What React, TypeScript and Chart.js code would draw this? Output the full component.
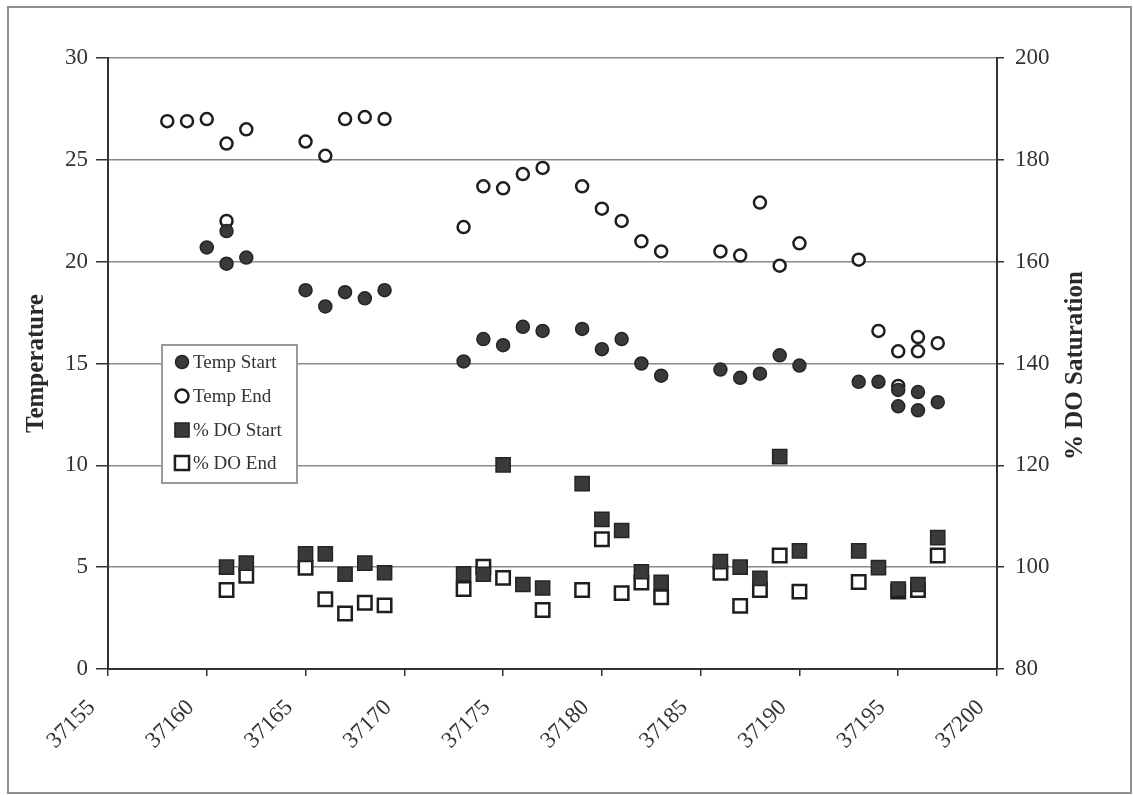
import React, { useEffect, useRef } from 'react';
import { Chart, registerables } from 'chart.js';

Chart.register(...registerables);

// ---- Data ----
const xTickValues = [37155, 37160, 37165, 37170, 37175, 37180, 37185, 37190, 37195, 37200];
const tempTicks = [0, 5, 10, 15, 20, 25, 30];
const doTicks = [80, 100, 120, 140, 160, 180, 200];

const tempStartDays = [37160, 37161, 37161, 37162, 37165, 37166, 37167, 37168, 37169, 37173, 37174, 37175, 37176, 37177, 37179, 37180, 37181, 37182, 37183, 37186, 37187, 37188, 37189, 37190, 37193, 37194, 37195, 37195, 37196, 37196, 37197];
const tempStartValues = [20.7, 21.5, 19.9, 20.2, 18.6, 17.8, 18.5, 18.2, 18.6, 15.1, 16.2, 15.9, 16.8, 16.6, 16.7, 15.7, 16.2, 15.0, 14.4, 14.7, 14.3, 14.5, 15.4, 14.9, 14.1, 14.1, 13.7, 12.9, 13.6, 12.7, 13.1];

const tempEndDays = [37158, 37159, 37160, 37161, 37161, 37162, 37165, 37166, 37167, 37168, 37169, 37173, 37174, 37175, 37176, 37177, 37179, 37180, 37181, 37182, 37183, 37186, 37187, 37188, 37189, 37190, 37193, 37194, 37195, 37195, 37196, 37196, 37197];
const tempEndValues = [26.9, 26.9, 27.0, 25.8, 22.0, 26.5, 25.9, 25.2, 27.0, 27.1, 27.0, 21.7, 23.7, 23.6, 24.3, 24.6, 23.7, 22.6, 22.0, 21.0, 20.5, 20.5, 20.3, 22.9, 19.8, 20.9, 20.1, 16.6, 15.6, 13.9, 16.3, 15.6, 16.0];

const doStartDays = [37161, 37162, 37165, 37166, 37167, 37168, 37169, 37173, 37174, 37175, 37176, 37177, 37179, 37180, 37181, 37182, 37183, 37186, 37187, 37188, 37189, 37190, 37193, 37194, 37195, 37196, 37197];
const doStartValues = [100.0, 100.8, 102.6, 102.6, 98.6, 100.8, 98.9, 98.7, 98.6, 120.1, 96.6, 95.9, 116.4, 109.4, 107.2, 99.1, 97.0, 101.1, 100.0, 97.8, 121.7, 103.2, 103.2, 99.9, 95.7, 96.6, 105.8];

const doEndDays = [37161, 37162, 37165, 37166, 37167, 37168, 37169, 37173, 37174, 37175, 37177, 37179, 37180, 37181, 37182, 37183, 37186, 37187, 37188, 37189, 37190, 37193, 37195, 37196, 37197];
const doEndValues = [95.5, 98.3, 99.9, 93.7, 90.9, 93.0, 92.5, 95.7, 100.1, 97.9, 91.6, 95.5, 105.5, 94.9, 97.0, 94.1, 98.9, 92.4, 95.5, 102.3, 95.2, 97.1, 95.2, 95.5, 102.3];

const seriesLabels = ['Temp Start', 'Temp End', '% DO Start', '% DO End'];
const leftTitle = 'Temperature';
const rightTitle = '% DO Saturation';

const SERIF = '"Liberation Serif", "Times New Roman", serif';

function pts(xs: number[], ys: number[]) {
  return xs.map((x, i) => ({ x, y: ys[i] }));
}

function drawMarker(ctx: CanvasRenderingContext2D, style: string, x: number, y: number, r: number, fill: string, stroke: string, lw: number) {
  ctx.save();
  ctx.beginPath();
  if (style === 'circle') {
    ctx.arc(x, y, r, 0, Math.PI * 2);
  } else {
    const s = r * Math.SQRT1_2;
    ctx.rect(x - s, y - s, 2 * s, 2 * s);
  }
  ctx.fillStyle = fill;
  ctx.fill();
  ctx.lineWidth = lw;
  ctx.strokeStyle = stroke;
  ctx.stroke();
  ctx.restore();
}

const decorPlugin = {
  id: 'decor',
  beforeDraw(chart: any) {
    const ctx = chart.ctx as CanvasRenderingContext2D;
    ctx.save();
    ctx.fillStyle = '#ffffff';
    ctx.fillRect(0, 0, chart.width, chart.height);
    ctx.strokeStyle = '#8f8f8f';
    ctx.lineWidth = 2;
    ctx.strokeRect(8, 7, 1123, 786);
    ctx.restore();
  },
  afterDraw(chart: any) {
    const ctx = chart.ctx as CanvasRenderingContext2D;
    const area = chart.chartArea;
    const cy = (area.top + area.bottom) / 2;
    ctx.save();
    ctx.fillStyle = '#2a2a2a';
    ctx.font = `bold 25px ${SERIF}`;
    ctx.textAlign = 'center';
    ctx.textBaseline = 'middle';
    ctx.translate(37, cy);
    ctx.rotate(-Math.PI / 2);
    ctx.fillText(leftTitle, 0, 0);
    ctx.restore();

    ctx.save();
    ctx.fillStyle = '#2a2a2a';
    ctx.font = `bold 25px ${SERIF}`;
    ctx.textAlign = 'center';
    ctx.textBaseline = 'middle';
    ctx.translate(1076, cy + 2);
    ctx.rotate(-Math.PI / 2);
    ctx.fillText(rightTitle, 0, 0);
    ctx.restore();

    // legend box
    const bx = 162, by = 345, bw = 135, bh = 138;
    ctx.save();
    ctx.fillStyle = '#ffffff';
    ctx.fillRect(bx, by, bw, bh);
    ctx.strokeStyle = '#999999';
    ctx.lineWidth = 2;
    ctx.strokeRect(bx, by, bw, bh);
    ctx.font = `19px ${SERIF}`;
    ctx.textBaseline = 'middle';
    ctx.textAlign = 'left';
    const rows = [362, 396, 430, 463];
    chart.data.datasets.forEach((ds: any, i: number) => {
      const y = rows[i];
      const isRect = ds.pointStyle === 'rect';
      drawMarker(ctx, ds.pointStyle, 182, y, isRect ? 10 : 6.5, ds.backgroundColor, ds.borderColor, ds.borderWidth);
      ctx.fillStyle = '#333333';
      ctx.fillText(ds.label, 193, y + 1);
    });
    ctx.restore();
  },
};

export default function App() {
  const ref = useRef<HTMLCanvasElement | null>(null);

  useEffect(() => {
    if (!ref.current) return;
    const tickFont = { family: SERIF, size: 23 };
    const chart = new Chart(ref.current, {
      type: 'scatter',
      data: {
        datasets: [
          {
            label: seriesLabels[0],
            data: pts(tempStartDays, tempStartValues),
            yAxisID: 'y',
            pointStyle: 'circle',
            pointRadius: 6.5,
            backgroundColor: '#3a3a3a',
            borderColor: '#242424',
            borderWidth: 1.5,
          },
          {
            label: seriesLabels[1],
            data: pts(tempEndDays, tempEndValues),
            yAxisID: 'y',
            pointStyle: 'circle',
            pointRadius: 6,
            backgroundColor: '#ffffff',
            borderColor: '#1e1e1e',
            borderWidth: 2.5,
          },
          {
            label: seriesLabels[2],
            data: pts(doStartDays, doStartValues),
            yAxisID: 'y2',
            pointStyle: 'rect',
            pointRadius: 10,
            backgroundColor: '#3a3a3a',
            borderColor: '#242424',
            borderWidth: 1.5,
          },
          {
            label: seriesLabels[3],
            data: pts(doEndDays, doEndValues),
            yAxisID: 'y2',
            pointStyle: 'rect',
            pointRadius: 9.5,
            backgroundColor: '#ffffff',
            borderColor: '#1e1e1e',
            borderWidth: 2.5,
          },
        ],
      },
      options: {
        responsive: false,
        animation: false,
        layout: { padding: { top: 58, left: 0, right: 0, bottom: 0 } },
        plugins: { legend: { display: false }, tooltip: { enabled: false }, title: { display: false } },
        scales: {
          x: {
            type: 'linear',
            position: 'bottom',
            min: xTickValues[0],
            max: xTickValues[xTickValues.length - 1],
            afterBuildTicks: (s: any) => { s.ticks = xTickValues.map((v) => ({ value: v })); },
            ticks: {
              callback: (v: any) => String(v) + '    ',
              maxRotation: 45,
              minRotation: 45,
              color: '#333333',
              font: tickFont,
              padding: 2,
            },
            grid: { drawOnChartArea: false, tickLength: 7, color: '#333333', lineWidth: 1.5 },
            border: { color: '#333333', width: 2 },
            afterFit: (s: any) => { s.height = 126; },
          },
          y: {
            position: 'left',
            min: tempTicks[0],
            max: tempTicks[tempTicks.length - 1],
            afterBuildTicks: (s: any) => { s.ticks = tempTicks.map((v) => ({ value: v })); },
            ticks: { color: '#333333', font: tickFont, padding: 8 },
            grid: { color: '#8a8a8a', lineWidth: 1.5, tickLength: 12, tickColor: '#333333' },
            border: { color: '#333333', width: 2 },
            afterFit: (s: any) => { s.width = 108; },
          },
          y2: {
            position: 'right',
            min: doTicks[0],
            max: doTicks[doTicks.length - 1],
            afterBuildTicks: (s: any) => { s.ticks = doTicks.map((v) => ({ value: v })); },
            ticks: { color: '#333333', font: tickFont, padding: 11 },
            grid: { drawOnChartArea: false, tickLength: 7, color: '#333333', lineWidth: 1.5 },
            border: { color: '#333333', width: 2 },
            afterFit: (s: any) => { s.width = 136; },
          },
        },
      },
      plugins: [decorPlugin],
    } as any);
    return () => chart.destroy();
  }, []);

  return (
    <div style={{ position: 'absolute', left: 0, top: 0, width: 1133, height: 795, background: '#fff' }}>
      <canvas ref={ref} width={1133} height={795} style={{ display: 'block', width: 1133, height: 795 }} />
    </div>
  );
}
